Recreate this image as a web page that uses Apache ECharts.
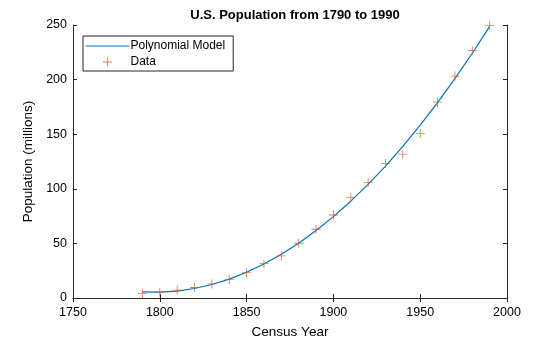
<!DOCTYPE html>
<html><head><meta charset="utf-8">
<script src="https://cdn.jsdelivr.net/npm/echarts@6/dist/echarts.min.js"></script>
<style>html,body{margin:0;padding:0;background:#fff}#c{width:560px;height:337px}</style>
</head><body><div id="c"></div>
<script>
const years = [1790,1800,1810,1820,1830,1840,1850,1860,1870,1880,1890,1900,1910,1920,1930,1940,1950,1960,1970,1980,1990];
const population = [3.929,5.308,7.240,9.638,12.866,17.069,23.192,31.443,38.558,50.156,62.948,75.995,91.972,105.711,123.203,131.669,150.697,179.323,203.212,226.505,249.633];
const modelValues = [5.64,5.35,6.38,8.72,12.36,17.32,23.58,31.16,40.04,50.23,61.73,74.54,88.65,104.08,120.82,138.86,158.22,178.88,200.85,224.13,248.72];
const xTicks = [1750,1800,1850,1900,1950,2000];
const yTicks = [0,50,100,150,200,250];

const font = 'Liberation Sans, Arial, Helvetica, sans-serif';
const plus = 'path://M-0.09,-1L0.09,-1L0.09,-0.09L1,-0.09L1,0.09L0.09,0.09L0.09,1L-0.09,1L-0.09,0.09L-1,0.09L-1,-0.09L-0.09,-0.09Z';
const chart = echarts.init(document.getElementById('c'));
const axisLine = {show:true, lineStyle:{color:'#262626', width:1}};
const tick = {show:true, inside:true, length:4, lineStyle:{color:'#262626'}};
chart.setOption({
  animation:false,
  title:{text:'U.S. Population from 1790 to 1990', left:290, textAlign:'center', top:4,
    textStyle:{fontFamily:font, fontSize:13, fontWeight:'bold', color:'#000'}},
  grid:{left:73, right:53, top:25, bottom:39, outerBoundsMode:'none', containLabel:false},
  legend:{orient:'vertical', left:83, top:36, padding:[4,8,3,2], itemGap:4,
    borderColor:'#262626', borderWidth:1, backgroundColor:'#fff', borderRadius:0,
    itemWidth:44, itemHeight:9,
    textStyle:{fontFamily:font, fontSize:12, color:'#000', padding:[0,0,0,-4]},
    data:[{name:'Polynomial Model', itemStyle:{color:'rgba(0,0,0,0)', opacity:0, borderWidth:0}, lineStyle:{width:1}},
          {name:'Data', itemStyle:{color:'#D95319'}}]},
  xAxis:[{type:'value', min:xTicks[0], max:xTicks[xTicks.length-1], interval:50,
    name:'Census Year', nameLocation:'middle', nameGap:27,
    nameTextStyle:{fontFamily:font, fontSize:13.5, color:'#000'},
    axisLine:axisLine, axisTick:tick, splitLine:{show:false},
    axisLabel:{fontFamily:font, fontSize:12.5, color:'#000', margin:8, formatter:v=>String(v)}},
   {type:'value', position:'top', min:xTicks[0], max:xTicks[xTicks.length-1], interval:50,
    axisLine:axisLine, axisTick:tick, splitLine:{show:false}, axisLabel:{show:false}}],
  yAxis:[{type:'value', min:yTicks[0], max:yTicks[yTicks.length-1], interval:50,
    name:'Population (millions)', nameLocation:'middle', nameGap:33,
    nameTextStyle:{fontFamily:font, fontSize:13.5, color:'#000'},
    axisLine:axisLine, axisTick:tick, splitLine:{show:false},
    axisLabel:{fontFamily:font, fontSize:12.5, color:'#000', margin:6, formatter:v=>String(v)}},
   {type:'value', position:'right', min:yTicks[0], max:yTicks[yTicks.length-1], interval:50,
    axisLine:axisLine, axisTick:tick, splitLine:{show:false}, axisLabel:{show:false}}],
  series:[
    {name:'Polynomial Model', type:'line', data:years.map((y,i)=>[y,modelValues[i]]),
     showSymbol:false, symbol:'none', lineStyle:{color:'#0072BD', width:1.2}, itemStyle:{color:'#0072BD'}, z:2},
    {name:'Data', type:'scatter', data:years.map((y,i)=>[y,population[i]]),
     symbol:plus, symbolSize:9, itemStyle:{color:'#D95319'}, z:3}
  ]
});
</script></body></html>
